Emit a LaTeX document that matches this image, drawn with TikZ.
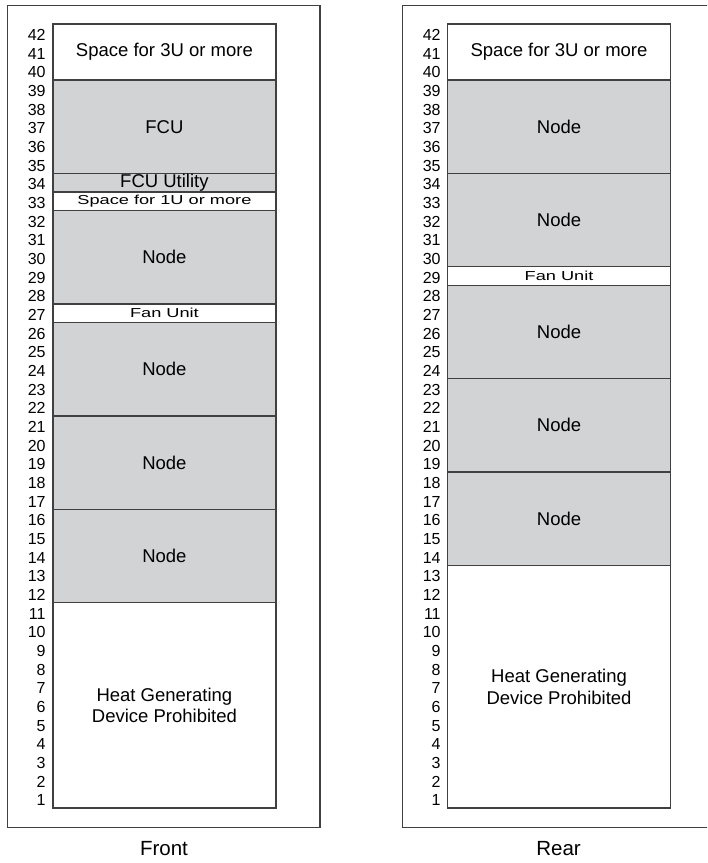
\documentclass[tikz,border=0pt]{standalone}
\usepackage{fontspec}
\setmainfont{Liberation Sans}
\usepackage{graphicx}
\definecolor{rackgrey}{RGB}{209,211,212}
\definecolor{rackline}{RGB}{64,64,65}
\newcommand{\rackU}{9.333pt}
\newcommand{\widetxt}[1]{\scalebox{1.4}[1]{\fontsize{6.5}{8}\selectfont #1}}

\begin{document}
\begin{tikzpicture}[x=0.5pt, y=9.333pt,
        every node/.style={font=\fontsize{9.25}{10.85}\selectfont},
        blk/.style={rectangle, draw=rackline, line width=0.6pt, fill=white,
                    minimum width=111.5pt, minimum height=#1*\rackU,
                    inner sep=0pt, align=center},
        gblk/.style={blk=#1, fill=rackgrey},
        unum/.style={anchor=east, inner sep=0pt, font=\fontsize{8}{9.6}\selectfont},
        rackframe/.style={draw=rackline, line width=0.6pt},
        side/.style={font=\fontsize{10.25}{12}\selectfont}
    ]
        \useasboundingbox (0,-2.946) rectangle (707,43.285);
        \clip (0,-2.946) rectangle (707,43.285);
        \draw[rackframe] (7.5,-1.055) rectangle (320,42.99);
        \draw[rackframe] (402.3,-1.055) rectangle (715,42.99);
        % front rack
        \node[blk=3]  (fspace3) at (164.4,40.5) {Space for 3U or more};
        \node[gblk=5] (ffcu)    at (164.4,36.5) {FCU};
        \node[gblk=1] (futil)   at (164.4,33.5) {FCU Utility};
        \node[blk=1]  (fspace1) at (164.4,32.5) {\widetxt{Space for 1U or more}};
        \node[gblk=5] (fnodea)  at (164.4,29.5) {Node};
        \node[blk=1]  (ffan)    at (164.4,26.5) {\widetxt{Fan Unit}};
        \node[gblk=5] (fnodeb)  at (164.4,23.5) {Node};
        \node[gblk=5] (fnodec)  at (164.4,18.5) {Node};
        \node[gblk=5] (fnoded)  at (164.4,13.5) {Node};
        \node[blk=11] (fheat)   at (164.4,5.5)  {Heat Generating\\Device Prohibited};
        % rear rack
        \node[blk=3]  (rspace3) at (559,40.5) {Space for 3U or more};
        \node[gblk=5] (rnodea)  at (559,36.5) {Node};
        \node[gblk=5] (rnodeb)  at (559,31.5) {Node};
        \node[blk=1]  (rfan)    at (559,28.5) {\widetxt{Fan Unit}};
        \node[gblk=5] (rnodec)  at (559,25.5) {Node};
        \node[gblk=5] (rnoded)  at (559,20.5) {Node};
        \node[gblk=5] (rnodee)  at (559,15.5) {Node};
        \node[blk=13] (rheat)   at (559,6.5)  {Heat Generating\\Device Prohibited};
        % unit numbers
        \foreach \n in {1,...,42} {
            \node[unum] (fnum\n) at (46,\n-0.59)  {\n};
            \node[unum] (rnum\n) at (441,\n-0.59) {\n};
        }
        \node[side] (front) at (164,-2.196)   {Front};
        \node[side] (rear)  at (558.5,-2.196) {Rear};
    \end{tikzpicture}
\end{document}
